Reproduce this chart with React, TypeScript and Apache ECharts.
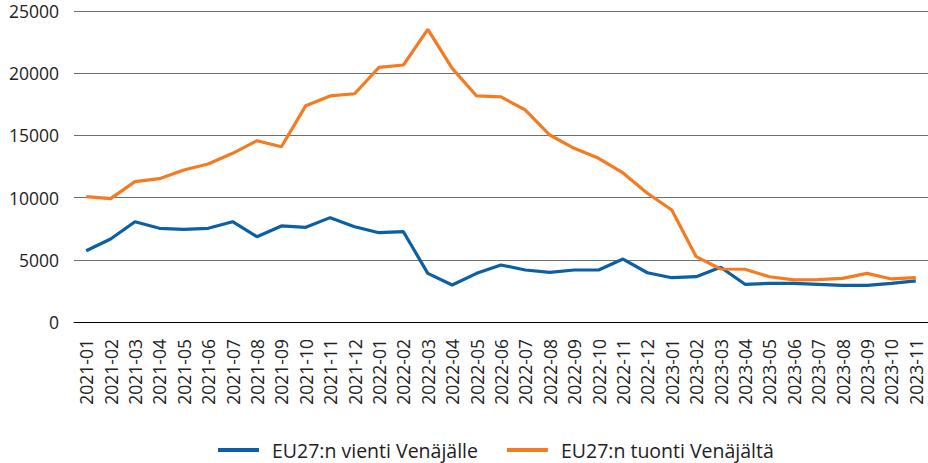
import React, { useEffect, useRef } from "react";
import * as echarts from "echarts";

const months = [
  "2021-01","2021-02","2021-03","2021-04","2021-05","2021-06","2021-07","2021-08","2021-09","2021-10","2021-11","2021-12",
  "2022-01","2022-02","2022-03","2022-04","2022-05","2022-06","2022-07","2022-08","2022-09","2022-10","2022-11","2022-12",
  "2023-01","2023-02","2023-03","2023-04","2023-05","2023-06","2023-07","2023-08","2023-09","2023-10","2023-11",
];

const exportsToRussia = [
  5730, 6670, 8060, 7530, 7450, 7530, 8060, 6860, 7720, 7610, 8390, 7660,
  7180, 7260, 3910, 2970, 3910, 4580, 4180, 3990, 4180, 4180, 5060, 3960,
  3560, 3640, 4400, 3030, 3110, 3110, 3030, 2950, 2950, 3110, 3300,
];

const importsFromRussia = [
  10073, 9913, 11280, 11520, 12220, 12700, 13560, 14575, 14090, 17390, 18170, 18350,
  20470, 20660, 23530, 20390, 18170, 18090, 17040, 15030, 13960, 13160, 11980, 10350,
  9000, 5250, 4260, 4240, 3640, 3380, 3400, 3510, 3910, 3460, 3560,
];

const seriesNames = ["EU27:n vienti Venäjälle", "EU27:n tuonti Venäjältä"];
const colors = ["#0b5fa5", "#f47b20"];

export default function App() {
  const ref = useRef<HTMLDivElement>(null);
  useEffect(() => {
    document.body.style.margin = "0";
    if (!ref.current) return;
    const chart = echarts.init(ref.current, null, { renderer: "svg" });
    const font = "'Open Sans', 'Noto Sans', sans-serif";
    chart.setOption({
      animation: false,
      textStyle: { fontFamily: font },
      grid: { left: 74, right: 0, top: 11, bottom: 141, containLabel: false },
      legend: {
        top: 440,
        left: 218,
        padding: 0,
        icon: "rect",
        itemWidth: 41,
        itemHeight: 4,
        itemGap: 29,
        textStyle: { fontSize: 19.5, color: "#222", fontFamily: font, padding: [0, 0, 0, 8] },
        data: seriesNames,
      },
      xAxis: {
        type: "category",
        data: months,
        boundaryGap: true,
        axisLine: { lineStyle: { color: "#000", width: 1 } },
        axisTick: { show: false },
        axisLabel: {
          rotate: 90,
          interval: 0,
          margin: 17,
          fontSize: 17.5,
          color: "#222",
          fontFamily: font,
        },
      },
      yAxis: {
        type: "value",
        min: 0,
        max: 25000,
        interval: 5000,
        axisLine: { show: false },
        axisTick: { show: false },
        splitLine: { lineStyle: { color: "#6e6e6e", width: 1 } },
        axisLabel: {
          fontSize: 17.5,
          color: "#222",
          margin: 15,
          fontFamily: font,
          formatter: (v: number) => String(v),
        },
      },
      series: [
        {
          name: seriesNames[0],
          type: "line",
          data: exportsToRussia,
          symbol: "none",
          lineStyle: { color: colors[0], width: 3.2 },
          itemStyle: { color: colors[0] },
        },
        {
          name: seriesNames[1],
          type: "line",
          data: importsFromRussia,
          symbol: "none",
          lineStyle: { color: colors[1], width: 3.2 },
          itemStyle: { color: colors[1] },
        },
      ],
    });
    return () => chart.dispose();
  }, []);
  return <div ref={ref} style={{ width: 928, height: 463 }} />;
}
